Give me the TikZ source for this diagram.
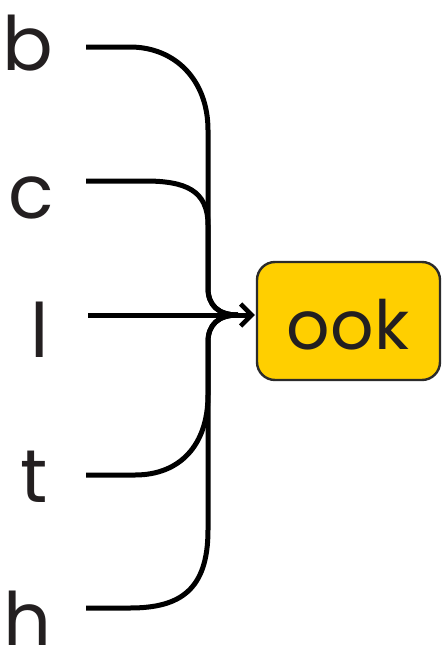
\documentclass[tikz,border=0pt]{standalone}
\usepackage{fontspec}
\setmainfont{Poppins}
\usetikzlibrary{arrows.meta}
\definecolor{boxyellow}{HTML}{FFCF00}
\definecolor{boxedge}{HTML}{2B2B2B}
\definecolor{txt}{HTML}{231F20}
\begin{document}
\begin{tikzpicture}[x=1pt,y=-1pt,
  letter/.style={font=\fontsize{75}{78}\selectfont, text=txt, anchor=base, inner sep=0pt},
  conn/.style={line width=5pt, black},
  target/.style={rounded corners=18pt, fill=boxyellow, draw=boxedge, line width=2.4pt,
    minimum width=183pt, minimum height=118pt}]
\useasboundingbox (0,0) rectangle (442,645);
\node[letter] (b) at (28,70) {b};
\node[letter] (c) at (31,218) {c};
\node[letter] (l) at (40,357) {l};
\node[letter] (t) at (34,502) {t};
\node[letter] (h) at (28,646) {h};
\node[target] (ook) at (348.5,321) {};
\node[font=\fontsize{68}{70}\selectfont, text=txt, anchor=base, inner sep=0pt] (ooklbl) at (348,349) {ook};
\coordinate (bs) at (86,47);
\coordinate (cs) at (86,181);
\coordinate (ls) at (88,315);
\coordinate (ts) at (86,475);
\coordinate (hs) at (86,608);
\coordinate (m) at (238,315);
\draw[conn] (bs) -- (130,47) .. controls (175,47) and (208,80) .. (208,130) -- (208,288) .. controls (208,305) and (218,315) .. (m);
\draw[conn] (cs) -- (145,181) .. controls (185,181) and (208,190) .. (208,225) -- (208,288) .. controls (208,305) and (218,315) .. (m);
\draw[conn,-{Straight Barb[length=11pt,width=22pt,line width=4.5pt]}] (ls) -- ([xshift=-1pt]ook.west |- ls);
\draw[conn] (ts) -- (135,475) .. controls (180,475) and (208,445) .. (208,395) -- (208,342) .. controls (208,325) and (218,315) .. (m);
\draw[conn] (hs) -- (130,608) .. controls (180,608) and (208,590) .. (208,530) -- (208,342) .. controls (208,325) and (218,315) .. (m);
\end{tikzpicture}
\end{document}
